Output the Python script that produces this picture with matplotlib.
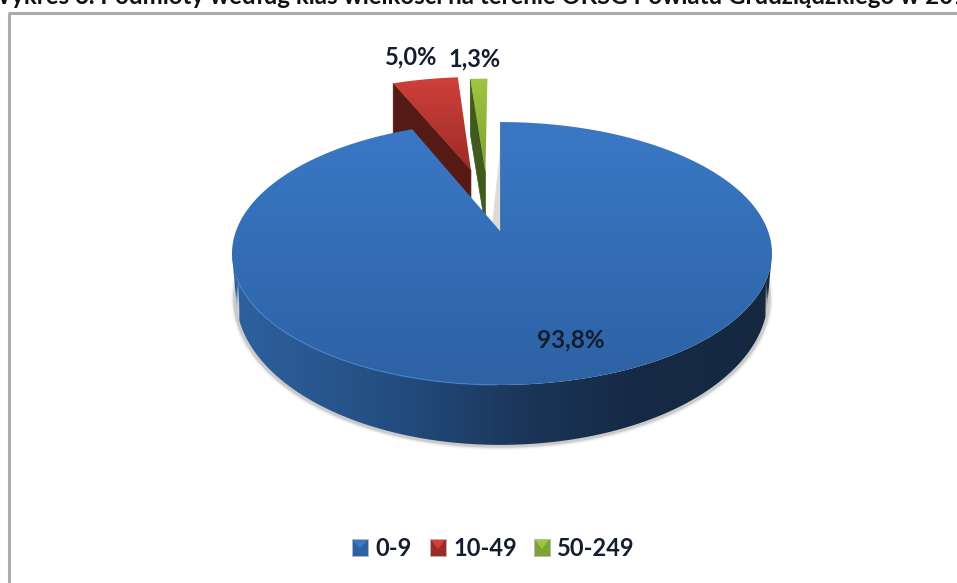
import numpy as np
import matplotlib
matplotlib.use('Agg')
import matplotlib.pyplot as plt
from matplotlib.colors import LinearSegmentedColormap
from matplotlib.patches import Polygon, Rectangle

# chart data
categories = ['0-9', '10-49', '50-249']
shares = [93.8, 5.0, 1.3]
value_labels = ['93,8%', '5,0%', '1,3%']
title = 'Wykres 6. Podmioty według klas wielkości na terenie OKSG Powiatu Grudziądzkiego w 2012'

# perspective of the pie, in pixels of the picture
W, H = 957, 583
CX, CY = 500, 231
RX, RY = 266, 127.6
KP = 0.171
offsets = [(0, 0), (-0.12, 0.52), (-0.06, 0.50)]

top_colors = [('#3a78c6', '#2d62a4'), ('#d0403a', '#9c2b27'), ('#9fc540', '#7da235')]
wall_colors = ['#2b5c99', '#561a15', '#3f5a1c']
legend_x = [352, 430, 534]
label_pos = [(571, 340), (411, 57), (475, 59)]

plt.rcParams['font.family'] = ['Lato', 'DejaVu Sans']
fig = plt.figure(figsize=(W / 100, H / 100), dpi=100)
ax = fig.add_axes([0, 0, 1, 1])


def project(x, y):
    x, y = np.asarray(x, float), np.asarray(y, float)
    return CX + RX * x / (1 + KP * y) + 2 * np.abs(x), CY - RY * y / (1 + KP * y)


def lower(px, py):
    # the rim height shrinks towards the back of the pie
    return CX + 2 + (px - CX - 2) * 0.985, py + 60 - 0.125 * (385 - py)


def gradient(poly, c0, c1, extent, horizontal=False, z=1):
    cmap = LinearSegmentedColormap.from_list('g', [c0, c1] if isinstance(c0, str) else c0)
    g = np.linspace(0, 1, 256)
    g = g.reshape(1, -1) if horizontal else g.reshape(-1, 1)
    im = ax.imshow(g, cmap=cmap, extent=extent, origin='upper' if not horizontal else 'lower',
                   aspect='auto', zorder=z, interpolation='bilinear')
    patch = Polygon(poly, closed=True, transform=ax.transData, fc='none', ec='none')
    ax.add_patch(patch)
    im.set_clip_path(patch)


# slice outlines, angles clockwise from the top
total = sum(shares)
edges = np.concatenate([[0], np.cumsum(shares) / total * 2 * np.pi])
outlines = []
for i in range(len(shares)):
    t = np.linspace(edges[i], edges[i + 1], 240)
    dx, dy = offsets[i]
    outlines.append((project(np.sin(t) + dx, np.cos(t) + dy), project(dx, dy)))

# soft shadow under the rim and beside the main slice
(ax0, ay0), _ = outlines[0]
bx, by = lower(ax0, ay0)
front = ay0 > 240
for lw, a in zip([6, 4, 2.5], [0.05, 0.1, 0.18]):
    ax.plot(bx[front] + np.where(bx[front] < CX, -1, 1), by[front] + 1, color='#555555', lw=lw, alpha=a, zorder=1)
ax.fill([492, 500, 500], [225, 150, 231], color='#999999', alpha=0.35, lw=0, zorder=1)

# exploded slices: left side wall first, then the top face
for i in [2, 1]:
    (px, py), (qx, qy) = outlines[i]
    ax.add_patch(Polygon([(px[0], py[0]), (qx, qy), (qx, qy + 55), (px[0], py[0] + 55)],
                         fc=wall_colors[i], ec=wall_colors[i], lw=0.5, zorder=3))
    poly = np.column_stack([np.append(px, qx), np.append(py, qy)])
    gradient(poly, top_colors[i][0], top_colors[i][1], (360, 520, qy, py.min()), z=4)

# main slice: rim, then top face over everything behind it
wall_t = ay0 > 235
wx, wy = ax0[wall_t], ay0[wall_t]
lx, ly = lower(wx, wy)
s = np.argsort(wx)
wall = np.concatenate([np.column_stack([wx[s], wy[s]]), np.column_stack([lx[s], ly[s]])[::-1]])
rim_cmap = [(0, '#2f619f'), (0.3, '#234d80'), (0.55, '#1b3558'), (0.75, '#152a45'), (1, '#152840')]
gradient(wall, rim_cmap, None, (232, 772, 0, H), horizontal=True, z=5)

(_, _), (ox, oy) = outlines[0]
poly = np.column_stack([np.append(ax0, ox), np.append(ay0, oy)])
gradient(poly, top_colors[0][0], top_colors[0][1], (232, 772, 385, 122), z=6)
left_rim = (ay0 > 275) & (ax0 < 500)
ax.plot(ax0[left_rim], ay0[left_rim], color='#4283d2', lw=1, alpha=0.7, zorder=7)
ax.plot([500, 500], [124, 231], color='#6f7f93', lw=0.7, alpha=0.6, zorder=7)

# value labels
for lab, (x, y) in zip(value_labels, label_pos):
    ax.text(x, y, lab, ha='center', va='center', fontsize=17.5 if lab == value_labels[0] else 17,
            fontweight='bold', color='#141c30', zorder=9)

# legend
for i, cat in enumerate(categories):
    x0 = legend_x[i]
    c0, c1 = top_colors[i]
    ax.add_patch(Rectangle((x0, 539), 16, 17, fc=c1, ec='#b8b8b8', lw=0.6, zorder=8))
    ax.add_patch(Polygon([(x0 + 1, 540), (x0 + 15, 540), (x0 + 8, 549)], fc=c0, ec='none', zorder=9))
    ax.text(x0 + 23, 548, cat, ha='left', va='center', fontsize=17, fontweight='bold', color='#141c30', zorder=9)

# frame and the title cut off by the picture edge
ax.plot([9, 9], [H, 13], color='#ababab', lw=2.2, solid_capstyle='butt', zorder=2)
ax.plot([8, W], [13, 13], color='#ababab', lw=2.2, solid_capstyle='butt', zorder=2)
ax.text(-14, 4, title, ha='left', va='baseline', fontsize=17.3, fontweight='bold', color='#111111', clip_on=True)

ax.set_xlim(0, W)
ax.set_ylim(H, 0)
ax.axis('off')
fig.savefig('out.png', dpi=100)
